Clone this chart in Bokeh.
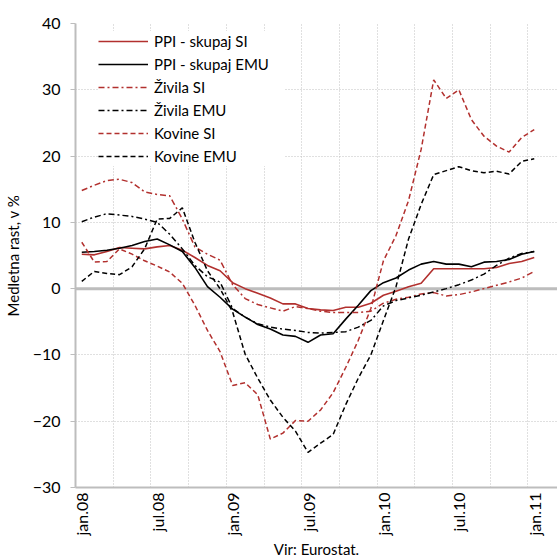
import math
from bokeh.plotting import figure
from bokeh.models import Range1d, FixedTicker, Grid, Legend, LegendItem, Span
from bokeh.embed import file_html
from bokeh.resources import INLINE

# ---- data ----
month_names = ["jan", "feb", "mar", "apr", "maj", "jun", "jul", "avg", "sep", "okt", "nov", "dec"]
months = [f"{month_names[m % 12]}.{8 + m // 12:02d}" for m in range(37)]  # jan.08 .. jan.11
tick_positions = [0, 6, 12, 18, 24, 30, 36]
tick_labels = ["jan.08", "jul.08", "jan.09", "jul.09", "jan.10", "jul.10", "jan.11"]
y_ticks = [-30, -20, -10, 0, 10, 20, 30, 40]

ppi_si = [5.2, 5.1, 5.6, 6.2, 6.1, 6.0, 6.3, 6.5, 5.8, 4.7, 3.5, 2.7, 0.9,
          0.0, -0.7, -1.4, -2.3, -2.3, -3.0, -3.2, -3.3, -2.8, -2.8, -2.2, -1.0,
          -0.4, 0.3, 0.8, 3.0, 3.0, 3.0, 3.0, 3.0, 3.2, 3.8, 4.1, 4.7]
ppi_emu = [5.5, 5.6, 5.8, 6.1, 6.5, 7.1, 7.5, 6.6, 5.6, 3.2, 0.3, -1.3, -3.1,
           -4.3, -5.4, -6.1, -7.0, -7.2, -8.1, -7.0, -6.8, -4.6, -2.5, -0.3, 0.9,
           1.6, 2.8, 3.7, 4.1, 3.7, 3.7, 3.3, 4.0, 4.1, 4.4, 5.2, 5.6]
zivila_si = [14.8, 15.6, 16.3, 16.5, 16.0, 14.6, 14.2, 14.0, 10.5, 6.3, 5.2, 4.3, 0.6,
             -1.5, -2.4, -2.9, -3.4, -2.7, -3.0, -3.4, -3.6, -3.6, -3.6, -3.4, -2.2,
             -1.6, -1.3, -0.8, -0.6, -1.1, -0.9, -0.5, 0.0, 0.5, 1.0, 1.6, 2.6]
zivila_emu = [10.1, 10.8, 11.3, 11.1, 10.9, 10.5, 10.0, 8.2, 6.0, 3.5, 1.8, 1.0, -3.0,
              -4.3, -5.3, -5.8, -6.1, -6.3, -6.6, -6.7, -6.6, -6.5, -5.8, -4.8, -2.6,
              -1.8, -1.4, -1.0, -0.5, 0.0, 0.6, 1.3, 2.2, 3.5, 4.6, 5.3, 5.6]
kovine_si = [7.0, 4.0, 4.1, 6.0, 5.2, 4.2, 3.4, 2.5, 0.8, -2.5, -6.3, -9.5, -14.6,
             -14.2, -16.0, -22.7, -21.8, -19.9, -20.0, -18.3, -15.7, -11.9, -7.8, -3.0, 4.2,
             8.0, 13.3, 21.0, 31.5, 28.7, 30.0, 25.5, 23.0, 21.5, 20.6, 22.8, 24.0]
kovine_emu = [1.1, 2.6, 2.3, 2.1, 3.3, 6.0, 10.5, 10.6, 12.2, 7.0, 2.7, 0.0, -3.5,
              -9.9, -13.5, -16.8, -19.4, -21.5, -24.7, -23.3, -22.0, -17.5, -13.5, -10.0, -4.8,
              0.3, 7.5, 12.7, 17.2, 17.8, 18.4, 17.8, 17.5, 17.7, 17.3, 19.2, 19.6]

x = list(range(len(months)))

FONT = "Lato"
RED = "#b2302e"
BLACK = "#000000"
GRID = "#c0c0c0"

p = figure(width=557, height=560, output_backend="svg", toolbar_location=None,
           x_range=Range1d(-0.5, 37.85), y_range=Range1d(-30, 40),
           min_border_left=70, min_border_right=0, min_border_top=23, min_border_bottom=73)
p.outline_line_color = None
p.background_fill_color = "white"

# grids
p.xgrid.visible = False
p.ygrid.visible = False
p.add_layout(Grid(dimension=0, ticker=FixedTicker(ticks=[i * 3 - 0.5 for i in range(1, 13)]),
                  grid_line_color=GRID, grid_line_dash="1 2", grid_line_width=1))
p.add_layout(Grid(dimension=1, ticker=FixedTicker(ticks=[-20, -10, 10, 20, 30, 40]),
                  grid_line_color=GRID, grid_line_dash="1 2", grid_line_width=1))
p.add_layout(Span(location=0, dimension="width", line_color="#bdbdbd", line_width=3, level="underlay"))

# y axis
ya = p.yaxis[0]
ya.ticker = FixedTicker(ticks=y_ticks)
ya.minor_tick_line_color = None
ya.major_tick_out = 5
ya.major_tick_in = 0
ya.major_tick_line_color = "#bdbdbd"
ya.axis_line_color = "#bdbdbd"
ya.axis_line_width = 2
ya.major_label_text_font = FONT
ya.major_label_text_font_size = "16px"
ya.major_label_text_color = "#000000"
ya.major_label_standoff = 10
ya.axis_label = "Medletna rast, v %"
ya.axis_label_text_font = FONT
ya.axis_label_text_font_size = "15px"
ya.axis_label_text_font_style = "normal"
ya.axis_label_text_color = "#000000"
ya.axis_label_standoff = 8

# x axis
xa = p.xaxis[0]
xa.ticker = FixedTicker(ticks=tick_positions)
xa.major_label_overrides = {t: l for t, l in zip(tick_positions, tick_labels)}
xa.major_label_orientation = math.pi / 2
xa.major_tick_line_color = None
xa.major_tick_out = 0
xa.major_tick_in = 0
xa.minor_tick_line_color = None
xa.axis_line_color = "#bdbdbd"
xa.axis_line_width = 2
xa.major_label_text_font = FONT
xa.major_label_text_font_size = "16px"
xa.major_label_text_color = "#000000"
xa.major_label_standoff = 5
xa.axis_label = "Vir: Eurostat."
xa.axis_label_text_font = FONT
xa.axis_label_text_font_size = "15px"
xa.axis_label_text_font_style = "normal"
xa.axis_label_text_color = "#000000"
xa.axis_label_standoff = 1

series = [
    ("PPI - skupaj SI", ppi_si, RED, "solid", 1.6),
    ("PPI - skupaj EMU", ppi_emu, BLACK, "solid", 1.6),
    ("Živila SI", zivila_si, RED, "6 3 2 3", 1.5),
    ("Živila EMU", zivila_emu, BLACK, "6 3 2 3", 1.5),
    ("Kovine SI", kovine_si, RED, "5 3", 1.5),
    ("Kovine EMU", kovine_emu, BLACK, "5 3", 1.5),
]

items = []
for name, ys, color, dash, w in series:
    r = p.line(x, ys, line_color=color, line_width=w, line_dash=dash)
    items.append(LegendItem(label=name, renderers=[r]))

legend = Legend(items=items, location=(23, 321), border_line_color=None,
                background_fill_color="white", background_fill_alpha=1.0,
                padding=5, margin=0, glyph_width=50, glyph_height=20,
                label_height=20, spacing=3, label_standoff=6, label_width=130,
                label_text_font=FONT, label_text_font_size="15px", label_text_color="#000000")
p.add_layout(legend)

open("out.html", "w").write(file_html(p, INLINE))
